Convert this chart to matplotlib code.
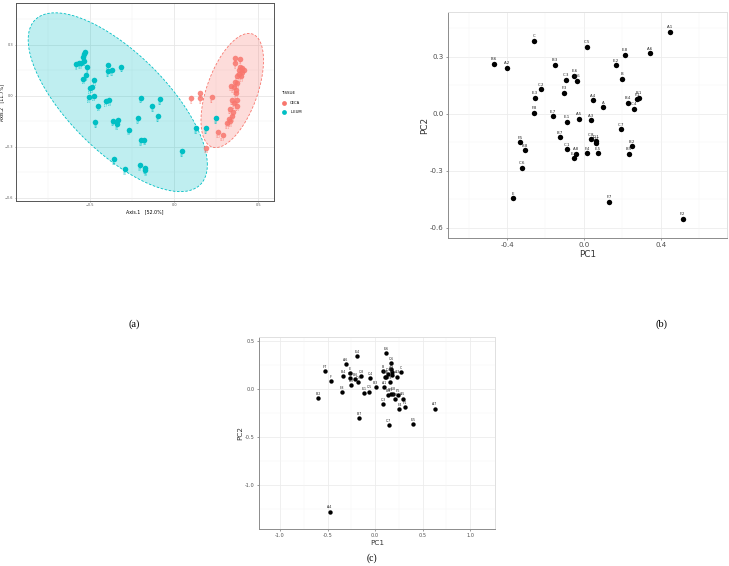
import numpy as np
import matplotlib
matplotlib.use("Agg")
import matplotlib.pyplot as plt

# ---- panel (a): PCoA by tissue ----
ileum_x = [-0.528, -0.534, -0.540, -0.536, -0.583, -0.567, -0.552, -0.520, -0.524, -0.540,
           -0.474, -0.490, -0.500, -0.478, -0.506, -0.450, -0.407, -0.385, -0.395, -0.395,
           -0.369, -0.313, -0.198, -0.085, -0.129, -0.095, -0.214, -0.468, -0.363, -0.333,
           -0.341, -0.268, -0.198, -0.177, -0.359, -0.294, -0.202, -0.175, -0.171, 0.048,
           0.131, 0.190, 0.250]
ileum_y = [0.261, 0.248, 0.232, 0.207, 0.189, 0.193, 0.193, 0.168, 0.123, 0.101,
           0.094, 0.053, 0.047, 0.002, -0.008, -0.057, -0.031, -0.025, 0.183, 0.144,
           0.150, 0.173, -0.010, -0.018, -0.060, -0.121, -0.131, -0.156, -0.146, -0.144,
           -0.166, -0.199, -0.261, -0.257, -0.372, -0.433, -0.409, -0.425, -0.435, -0.324,
           -0.191, -0.191, -0.129]
ceca_x = [0.103, 0.157, 0.157, 0.224, 0.363, 0.395, 0.365, 0.393, 0.405, 0.385,
          0.413, 0.377, 0.401, 0.389, 0.405, 0.365, 0.377, 0.339, 0.355, 0.367,
          0.369, 0.345, 0.373, 0.359, 0.377, 0.333, 0.353, 0.347, 0.325, 0.333,
          0.315, 0.262, 0.290, 0.192]
ceca_y = [-0.012, 0.019, -0.014, -0.006, 0.226, 0.220, 0.193, 0.173, 0.164, 0.150,
          0.154, 0.119, 0.115, 0.131, 0.138, 0.084, 0.076, 0.060, 0.053, 0.037,
          0.018, -0.021, -0.021, -0.041, -0.057, -0.074, -0.096, -0.119, -0.138, -0.148,
          -0.162, -0.212, -0.232, -0.304]
# ellipse centre and spread (xx, yy, xy)
ileum_ell = ((-0.335, -0.037), (0.284, 0.277, -0.196))
ceca_ell = ((0.346, 0.032), (0.0346, 0.1129, 0.033))

# ---- panel (b) ----
names_b = ["A.1", "A.6", "E.8", "E.2", "B", "C.5", "C", "B.6", "A.2", "B.3", "C.3", "E.6",
           "D.6", "C.2", "E.3", "F.3", "A.4", "A", "B.4", "F.1", "B.1", "C.4", "F.8", "E.7",
           "E.1", "A.5", "A.3", "C.7", "B.7", "C.8", "D.1", "D.7", "B.2", "B.5", "F.5", "B.8",
           "C.1", "A.8", "E.4", "F.4", "E.5", "C.6", "E", "F.7", "F.2"]
pc1_b = [0.447, 0.343, 0.213, 0.166, 0.199, 0.014, -0.260, -0.469, -0.400, -0.149, -0.095, -0.050,
         -0.038, -0.225, -0.255, -0.102, 0.047, 0.099, 0.229, 0.275, 0.286, 0.261, -0.258, -0.163,
         -0.090, -0.026, 0.035, 0.192, -0.123, 0.035, 0.062, 0.064, 0.248, 0.234, -0.332, -0.308,
         -0.090, -0.043, -0.052, 0.016, 0.074, -0.324, -0.371, 0.132, 0.513]
pc2_b = [0.432, 0.318, 0.312, 0.256, 0.185, 0.353, 0.385, 0.263, 0.242, 0.259, 0.180, 0.201,
         0.175, 0.129, 0.086, 0.111, 0.072, 0.034, 0.060, 0.078, 0.086, 0.028, 0.005, -0.012,
         -0.042, -0.025, -0.034, -0.081, -0.122, -0.134, -0.143, -0.155, -0.169, -0.210, -0.148, -0.191,
         -0.185, -0.210, -0.233, -0.208, -0.206, -0.284, -0.443, -0.461, -0.551]

# ---- panel (c) ----
names_c = ["E.6", "E.4", "A.6", "C.6", "F.7", "F", "B.2", "B.4", "E", "E.2", "E.3", "B.6",
           "D.3", "C.8", "C.4", "F.8", "E.1", "C.5", "B.3", "B", "D.4", "D.5", "D", "A.2",
           "D.8", "C", "A.3", "C.2", "A.1", "F.3", "B.8", "B.5", "E.8", "B.1", "F.5", "A.5",
           "C.3", "F.4", "F.1", "A.7", "B.7", "C.7", "E.5", "A.4"]
pc1_c = [0.116, -0.186, -0.309, 0.172, -0.523, -0.463, -0.596, -0.337, -0.263, -0.263, -0.249, -0.207,
         -0.179, -0.147, -0.053, -0.344, -0.116, -0.063, 0.007, 0.084, 0.112, 0.105, 0.165, 0.175,
         0.140, 0.274, 0.235, 0.182, 0.098, 0.154, 0.140, 0.165, 0.186, 0.214, 0.239, 0.288,
         0.084, 0.256, 0.316, 0.625, -0.168, 0.144, 0.400, -0.474]
pc2_c = [0.372, 0.344, 0.260, 0.271, 0.184, 0.083, -0.097, 0.135, 0.163, 0.111, 0.035, 0.101,
         0.069, 0.132, 0.109, -0.032, -0.046, -0.028, 0.021, 0.184, 0.121, 0.128, 0.208, 0.174,
         0.153, 0.174, 0.128, 0.139, 0.021, 0.073, -0.066, -0.059, -0.049, -0.111, -0.066, -0.101,
         -0.156, -0.208, -0.194, -0.205, -0.302, -0.375, -0.365, -1.278]

RED = "#F8766D"
CYAN = "#00BFC4"

fig = plt.figure(figsize=(7.29, 5.66), dpi=100)


def ellipse(ax, ell, color):
    (cx, cy), (sxx, syy, sxy) = ell
    L = np.linalg.cholesky(np.array([[sxx, sxy], [sxy, syy]]))
    t = np.linspace(0, 2 * np.pi, 200)
    pts = L @ np.vstack([np.cos(t), np.sin(t)])
    ax.fill(cx + pts[0], cy + pts[1], color=color, alpha=0.25, lw=0, zorder=1)
    ax.plot(cx + pts[0], cy + pts[1], color=color, lw=0.6, ls=(0, (3, 2)), zorder=2)


def gg_grid(ax, xmaj, ymaj, xmin, ymin, col_maj, col_min):
    for v in xmaj:
        ax.axvline(v, color=col_maj, lw=0.6, zorder=0)
    for v in ymaj:
        ax.axhline(v, color=col_maj, lw=0.6, zorder=0)
    for v in xmin:
        ax.axvline(v, color=col_min, lw=0.35, zorder=0)
    for v in ymin:
        ax.axhline(v, color=col_min, lw=0.35, zorder=0)


# ---------------- (a) ----------------
axa = fig.add_axes([0.022, 0.645, 0.354, 0.3497])
axa.set_xlim(-0.94, 0.595)
axa.set_ylim(-0.618, 0.547)
gg_grid(axa, [-0.5, 0, 0.5], [0.3, 0, -0.3, -0.6], [-0.75, -0.25, 0.25],
        [0.45, 0.15, -0.15, -0.45], "#e6e6e6", "#f2f2f2")
ellipse(axa, ileum_ell, CYAN)
ellipse(axa, ceca_ell, RED)
axa.scatter(ileum_x, ileum_y, s=16, color=CYAN, lw=0, zorder=3)
axa.scatter(ceca_x, ceca_y, s=16, color=RED, lw=0, alpha=0.85, zorder=3)
for i, (x, y) in enumerate(zip(ileum_x, ileum_y)):
    axa.annotate("I%d" % (i + 1), (x, y), xytext=(0, -3.4), textcoords="offset points",
                 fontsize=1.8, color=CYAN, ha="center", va="center", zorder=3)
for i, (x, y) in enumerate(zip(ceca_x, ceca_y)):
    axa.annotate("C%d" % (i + 1), (x, y), xytext=(0, -3.4), textcoords="offset points",
                 fontsize=1.8, color=RED, ha="center", va="center", zorder=3)
axa.set_xticks([-0.5, 0.0, 0.5])
axa.set_yticks([0.3, 0.0, -0.3, -0.6])
axa.tick_params(labelsize=2.5, length=1, width=0.4, pad=0.8, colors="#555555")
for s in axa.spines.values():
    s.set_color("#555555")
    s.set_linewidth(0.7)
axa.set_xlabel("Axis.1   [52.0%]", fontsize=3.4, labelpad=1.5)
axa.set_ylabel("Axis.2   [11.7%]", fontsize=3.3, labelpad=0.6)
fig.text(0.3855, 0.835, "TISSUE", fontsize=2.9, va="center")
axl = fig.add_axes([0.383, 0.795, 0.06, 0.03])
axl.set_xlim(0, 1)
axl.set_ylim(0, 1)
axl.axis("off")
axl.scatter([0.1], [0.78], s=12, color=RED, lw=0)
axl.scatter([0.1], [0.25], s=12, color=CYAN, lw=0)
axl.text(0.25, 0.78, "CECA", fontsize=2.7, va="center")
axl.text(0.25, 0.25, "ILEUM", fontsize=2.7, va="center")


def pc_panel(ax, xs, ys, names, xlim, ylim, xt, yt, xmin, ymin, s, lfs, tfs, afs, off):
    ax.set_xlim(*xlim)
    ax.set_ylim(*ylim)
    gg_grid(ax, xt, yt, xmin, ymin, "#ececec", "#f6f6f6")
    ax.scatter(xs, ys, s=s, color="black", lw=0, zorder=3)
    for n, x, y in zip(names, xs, ys):
        ax.annotate(n, (x, y), xytext=(0, off), textcoords="offset points",
                    fontsize=lfs, ha="center", va="bottom", color="#222222", zorder=4)
    ax.set_xticks(xt)
    ax.set_yticks(yt)
    ax.set_xticklabels(["%.1f" % v for v in xt])
    ax.set_yticklabels(["%.1f" % v for v in yt])
    ax.tick_params(labelsize=tfs, length=1.5, width=0.4, pad=1.5, colors="#4d4d4d")
    ax.spines["left"].set_color("#8c8c8c")
    ax.spines["bottom"].set_color("#8c8c8c")
    ax.spines["top"].set_color("#e0e0e0")
    ax.spines["right"].set_color("#e0e0e0")
    for sp in ax.spines.values():
        sp.set_linewidth(0.7)
    ax.set_xlabel("PC1", fontsize=afs, labelpad=1, color="#333333")
    ax.set_ylabel("PC2", fontsize=afs, labelpad=1, color="#333333")


# ---------------- (b) ----------------
axb = fig.add_axes([0.6145, 0.5795, 0.3825, 0.3995])
pc_panel(axb, pc1_b, pc2_b, names_b, (-0.707, 0.743), (-0.653, 0.537),
         [-0.4, 0.0, 0.4], [0.3, 0.0, -0.3, -0.6], [-0.6, -0.2, 0.2, 0.6],
         [0.45, 0.15, -0.15, -0.45], 15, 2.8, 5.0, 6.4, 1.8)

# ---------------- (c) ----------------
axc = fig.add_axes([0.3553, 0.0654, 0.3237, 0.3392])
pc_panel(axc, pc1_c, pc2_c, names_c, (-1.22, 1.26), (-1.46, 0.54),
         [-1.0, -0.5, 0.0, 0.5, 1.0], [0.5, 0.0, -0.5, -1.0], [-0.75, -0.25, 0.25, 0.75],
         [0.25, -0.25, -0.75, -1.25], 10, 2.3, 3.6, 5.2, 1.5)

fig.text(0.184, 0.4276, "(a)", fontsize=7.5, family="Liberation Serif", ha="center", va="center")
fig.text(0.908, 0.4276, "(b)", fontsize=7.5, family="Liberation Serif", ha="center", va="center")
fig.text(0.510, 0.0141, "(c)", fontsize=7, family="Liberation Serif", ha="center", va="center")

fig.savefig("out.png", dpi=100)
